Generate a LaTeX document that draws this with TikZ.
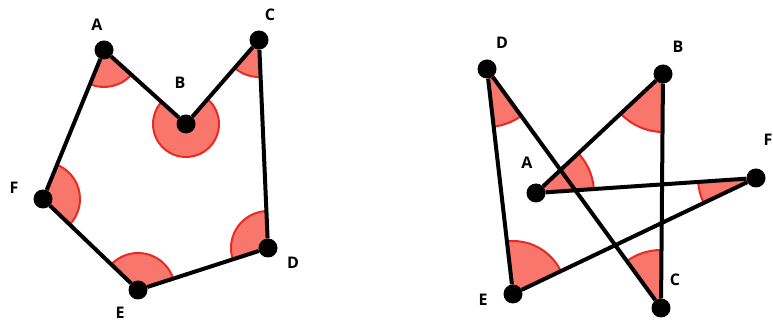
\documentclass[tikz,border=0pt]{standalone}
\usepackage{fontspec}
\setmainfont{Open Sans}
\usepackage{tikz}
\usetikzlibrary{angles,positioning}
\definecolor{angfill}{RGB}{248,118,108}
\definecolor{angline}{RGB}{232,42,34}
\tikzset{
  vtx/.style ={circle, fill=black, inner sep=0pt, minimum size=19pt},
  seg/.style ={line width=4pt, draw=black},
  ang/.style ={draw=angline, fill=angfill, line width=2pt},
  lbl/.style ={font=\fontsize{16}{16}\selectfont\bfseries},
}

\begin{document}
\begin{tikzpicture}[x=1pt,y=1pt]
\useasboundingbox (0,0) rectangle (773,329);
% left polygon
\coordinate (pA) at (104,279); \coordinate (pB) at (186,205);
\coordinate (pC) at (259,289); \coordinate (pD) at (268,81);
\coordinate (pE) at (138,39);  \coordinate (pF) at (43,130);
\pic[ang,angle radius=37pt] {angle=pF--pA--pB};
\pic[ang,angle radius=33pt] {angle=pA--pB--pC};
\pic[ang,angle radius=37pt] {angle=pB--pC--pD};
\pic[ang,angle radius=37pt] {angle=pC--pD--pE};
\pic[ang,angle radius=37pt] {angle=pD--pE--pF};
\pic[ang,angle radius=37pt] {angle=pE--pF--pA};

% right star
\coordinate (sA) at (536,136); \coordinate (sB) at (663,255);
\coordinate (sC) at (661,21);  \coordinate (sD) at (487,260);
\coordinate (sE) at (513,35);  \coordinate (sF) at (756,151);
\pic[ang,angle radius=58pt] {angle=sF--sA--sB};
\pic[ang,angle radius=58pt] {angle=sA--sB--sC};
\pic[ang,angle radius=58pt] {angle=sB--sC--sD};
\pic[ang,angle radius=58pt] {angle=sE--sD--sC};
\pic[ang,angle radius=53pt] {angle=sF--sE--sD};
\pic[ang,angle radius=58pt] {angle=sA--sF--sE};

\foreach \v in {A,B,C,D,E,F} {
  \node[vtx] (L\v) at (p\v) {};
  \node[vtx] (R\v) at (s\v) {};
}
\draw[seg] (LA)--(LB); \draw[seg] (LB)--(LC); \draw[seg] (LC)--(LD);
\draw[seg] (LD)--(LE); \draw[seg] (LE)--(LF); \draw[seg] (LF)--(LA);
\draw[seg] (RA)--(RB); \draw[seg] (RB)--(RC); \draw[seg] (RC)--(RD);
\draw[seg] (RD)--(RE); \draw[seg] (RE)--(RF); \draw[seg] (RF)--(RA);

% labels
\node[lbl] (tA) at (97,304) {A};  \node[lbl] (tB) at (180,246) {B};
\node[lbl] (tC) at (270,314) {C}; \node[lbl] (tD) at (293,66) {D};
\node[lbl] (tE) at (120,16) {E};  \node[lbl] (tF) at (14,141) {F};
\node[lbl] (uA) at (527,166) {A}; \node[lbl] (uB) at (678,282) {B};
\node[lbl] (uC) at (675,49) {C};  \node[lbl] (uD) at (502,286) {D};
\node[lbl] (uE) at (483,29) {E};  \node[lbl] (uF) at (768,189) {F};
\end{tikzpicture}
\end{document}
